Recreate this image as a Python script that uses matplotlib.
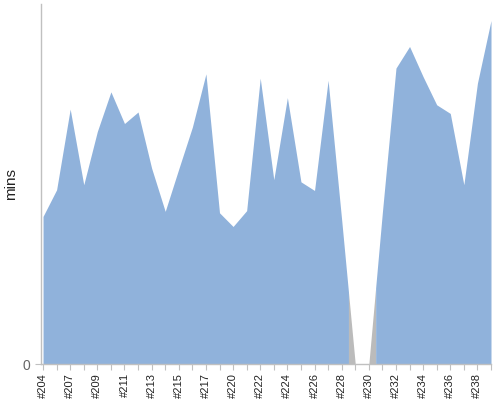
import numpy as np
import matplotlib
matplotlib.use("Agg")
import matplotlib.pyplot as plt

plt.rcParams['font.family'] = ['Liberation Sans', 'DejaVu Sans']

# build numbers (every other one is labelled on the axis)
builds = ['#204', '#205', '#207', '#208', '#209', '#210', '#211', '#212',
          '#213', '#214', '#215', '#216', '#217', '#218', '#220', '#221',
          '#222', '#223', '#224', '#225', '#226', '#227', '#228', '#229',
          '#230', '#231', '#232', '#233', '#234', '#235', '#236', '#237',
          '#238', '#239']

mins = [20.5, 24.2, 35.4, 24.9, 32.3, 37.8, 33.4, 35.0,
        27.2, 21.2, 27.1, 32.9, 40.3, 21.0, 19.1, 21.3,
        39.7, 25.6, 37.0, 25.3, 24.1, 39.4, 20.0, 0.0,
        0.0, 21.1, 41.1, 44.1, 39.9, 36.0, 34.8, 24.9,
        39.0, 47.7]

# status per build: ok builds are blue, broken ones grey
ok = [True] * 23 + [False] * 2 + [True] * 9

BLUE = '#90b2db'
GREY = '#bbbbbb'

x = np.arange(len(mins))
y = np.array(mins)

fig = plt.figure(figsize=(5, 4), dpi=100)
ax = fig.add_axes([0.082, 0.09, 0.9, 0.9])

# fill runs of the same status, switching colour half way between points
start = 0
for i in range(1, len(ok) + 1):
    if i == len(ok) or ok[i] != ok[start]:
        lo = max(start - 0.5, 0)
        hi = min(i - 1 + 0.5, len(ok) - 1)
        xs = np.concatenate(([lo], x[(x > lo) & (x < hi)], [hi]))
        ys = np.interp(xs, x, y)
        ax.fill_between(xs, 0, ys, color=BLUE if ok[start] else GREY,
                        lw=0, antialiased=True)
        start = i

ax.set_xlim(-0.15, len(mins) - 1)
ax.set_ylim(0, 50)

ax.set_xticks(x)
ax.set_xticklabels([b if i % 2 == 0 else '' for i, b in enumerate(builds)],
                   rotation=90, fontsize=8, color='#222222')
ax.set_yticks([0])
ax.set_yticklabels(['0'], fontsize=10, color='#666666')
ax.tick_params(axis='x', length=4, width=0.8, color='#c0c0c0', pad=2.5)
ax.tick_params(axis='y', length=4, width=0.8, color='#c0c0c0', pad=4)

for side in ['top', 'right']:
    ax.spines[side].set_visible(False)
for side in ['left', 'bottom']:
    ax.spines[side].set_color('#c0c0c0')
    ax.spines[side].set_linewidth(1)

ax.set_ylabel('mins', fontsize=11, color='#222222')
ax.yaxis.set_label_coords(-0.05, 0.5)

fig.savefig('out.png', dpi=100)
